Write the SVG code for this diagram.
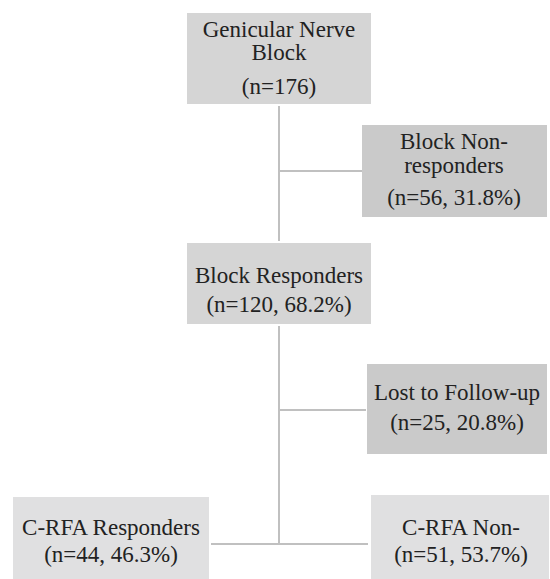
<svg xmlns="http://www.w3.org/2000/svg" width="550" height="579" viewBox="0 0 550 579">
<style>
text{font-family:'Liberation Serif','Times New Roman','DejaVu Serif',serif;font-size:23px;fill:#222;text-anchor:middle}
.c{stroke:#c0c0c0;stroke-width:2;fill:none}
.b1{fill:#d5d5d5}
.b2{fill:#cacaca}
.b3{fill:#e0e0e1}
</style>
<rect width="550" height="579" fill="#fff"/>
<g id="connectors">
<line class="c" x1="279" y1="106" x2="279" y2="241"/>
<line class="c" x1="279" y1="171" x2="362" y2="171"/>
<line class="c" x1="279" y1="326" x2="279" y2="544"/>
<line class="c" x1="279" y1="410" x2="366" y2="410"/>
<line class="c" x1="211" y1="544" x2="368" y2="544"/>
</g>
<g id="gnb" font-family="Liberation Serif, serif">
<rect class="b1" x="187" y="13" width="184" height="91"/>
<text x="279" y="37">Genicular Nerve</text>
<text x="279" y="60">Block</text>
<text x="279" y="94">(n=176)</text>
</g>
<g id="nonresp">
<rect class="b2" x="362" y="125" width="185" height="92"/>
<text x="454" y="149">Block Non-</text>
<text x="454" y="173">responders</text>
<text x="454" y="205">(n=56, 31.8%)</text>
</g>
<g id="resp">
<rect class="b1" x="187" y="243" width="184" height="81"/>
<text x="279" y="283">Block Responders</text>
<text x="279" y="312">(n=120, 68.2%)</text>
</g>
<g id="lost">
<rect class="b2" x="367" y="364" width="180" height="90"/>
<text x="457" y="400">Lost to Follow-up</text>
<text x="457" y="430">(n=25, 20.8%)</text>
</g>
<g id="crfa-resp">
<rect class="b3" x="13" y="497" width="196" height="82"/>
<text x="111" y="535">C-RFA Responders</text>
<text x="111" y="562">(n=44, 46.3%)</text>
</g>
<g id="crfa-non">
<rect class="b3" x="371" y="495" width="178" height="84"/>
<text x="461" y="535">C-RFA Non-</text>
<text x="461" y="562">(n=51, 53.7%)</text>
</g>
</svg>
